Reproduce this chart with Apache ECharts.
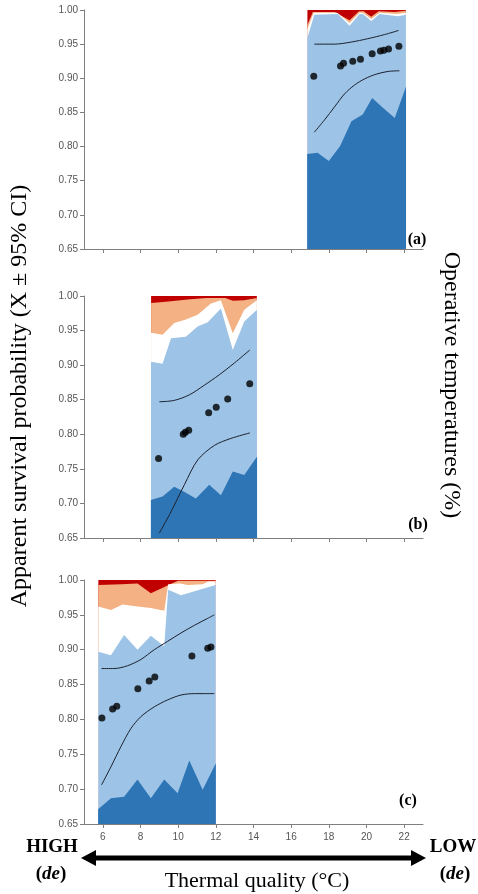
<!DOCTYPE html>
<html>
<head>
<meta charset="utf-8">
<script src="https://cdn.jsdelivr.net/npm/echarts@6/dist/echarts.min.js"></script>
<style>
html,body{margin:0;padding:0;background:#fff;}
#chart{width:478px;height:894px;}
</style>
</head>
<body>
<div id="chart"></div>
<script>
// ---------- data ----------
const xTickValues = [6, 8, 10, 12, 14, 16, 18, 20, 22];
const yTickValues = [0.65, 0.70, 0.75, 0.80, 0.85, 0.90, 0.95, 1.00];
const panelLabels = ['(a)', '(b)', '(c)'];

// Panel (a): operative-temperature layers (upper boundaries)
const aRedTop = [[16.85, 1.0], [22.1, 1.0]];
const aOrangeTop = [[16.85, 0.978], [17.15, 0.997], [18.3, 0.997], [19.1, 0.985], [19.6, 0.998], [19.85, 0.998], [20.25, 0.990], [20.65, 0.998], [21.5, 0.997], [22.1, 0.999]];
const aWhiteTop = [[16.85, 0.972], [17.2, 0.996], [18.45, 0.996], [19.1, 0.981], [19.63, 0.996], [19.8, 0.996], [20.25, 0.987], [20.7, 0.996], [21.6, 0.994], [22.1, 0.996]];
const aLightTop = [[16.85, 0.959], [17.23, 0.993], [18.48, 0.994], [19.1, 0.977], [19.63, 0.994], [19.8, 0.994], [20.25, 0.984], [20.7, 0.994], [21.67, 0.991], [22.1, 0.993]];
const aDarkTop = [[16.85, 0.789], [17.4, 0.791], [18.0, 0.779], [18.6, 0.801], [19.2, 0.837], [19.8, 0.847], [20.3, 0.871], [20.9, 0.856], [21.5, 0.842], [22.1, 0.888]];
const aUpper = [[17.23, 0.950], [18.3, 0.950], [19.18, 0.953], [20.07, 0.958], [20.96, 0.964], [21.7, 0.970]];
const aLower = [[17.23, 0.821], [17.77, 0.839], [18.3, 0.858], [18.83, 0.877], [19.36, 0.890], [19.89, 0.899], [20.51, 0.906], [21.14, 0.910], [21.75, 0.911]];
const aSurvival = [[17.2, 0.903], [18.62, 0.918], [18.78, 0.922], [19.27, 0.925], [19.68, 0.928], [20.30, 0.936], [20.74, 0.940], [20.92, 0.941], [21.17, 0.943], [21.72, 0.947]];

// Panel (b)
const bRedTop = [[8.55, 1.0], [14.19, 1.0]];
const bOrangeTop = [[8.55, 0.990], [9.5, 0.992], [10.5, 0.995], [11.5, 0.997], [12.5, 0.997], [12.9, 0.993], [13.5, 0.994], [14.19, 0.997]];
const bWhiteTop = [[8.55, 0.947], [9.17, 0.944], [9.79, 0.961], [10.41, 0.966], [11.03, 0.973], [11.74, 0.989], [12.27, 0.994], [12.9, 0.946], [13.51, 0.980], [14.19, 0.994]];
const bLightTop = [[8.55, 0.905], [9.17, 0.902], [9.62, 0.939], [10.41, 0.941], [11.03, 0.956], [11.57, 0.962], [12.27, 0.982], [12.9, 0.922], [13.51, 0.963], [14.19, 0.980]];
const bDarkTop = [[8.55, 0.705], [9.17, 0.710], [9.79, 0.724], [10.32, 0.717], [10.94, 0.707], [11.65, 0.727], [12.27, 0.712], [12.9, 0.746], [13.51, 0.741], [14.19, 0.768]];
const bUpper = [[9.0, 0.847], [9.79, 0.849], [10.59, 0.857], [11.39, 0.871], [12.18, 0.886], [12.98, 0.903], [13.81, 0.922]];
const bLower = [[9.0, 0.657], [9.62, 0.688], [10.33, 0.727], [11.04, 0.763], [11.93, 0.784], [12.8, 0.794], [13.81, 0.802]];
const bSurvival = [[8.96, 0.765], [10.27, 0.800], [10.38, 0.803], [10.56, 0.806], [11.62, 0.831], [12.02, 0.839], [12.63, 0.851], [13.8, 0.873]];

// Panel (c)
const cRedTop = [[5.75, 1.0], [12.0, 1.0]];
const cOrangeTop = [[5.75, 0.993], [7.0, 0.994], [7.84, 0.995], [8.55, 0.981], [9.75, 0.996], [10.0, 0.999], [12.0, 0.999]];
const cWhiteTop = [[5.75, 0.962], [6.43, 0.957], [7.05, 0.965], [7.84, 0.962], [8.55, 0.960], [9.26, 0.956], [9.47, 0.994], [10.1, 0.995], [10.5, 0.993], [11.3, 0.994], [11.6, 0.998], [12.0, 0.998]];
const cLightTop = [[5.75, 0.897], [6.43, 0.892], [7.13, 0.921], [7.84, 0.900], [8.55, 0.920], [9.26, 0.905], [9.47, 0.986], [10.15, 0.978], [12.0, 0.993]];
const cDarkTop = [[5.75, 0.671], [6.43, 0.687], [7.13, 0.689], [7.84, 0.714], [8.55, 0.687], [9.26, 0.714], [9.97, 0.694], [10.59, 0.741], [11.3, 0.699], [12.0, 0.737]];
const cUpper = [[5.93, 0.873], [6.6, 0.873], [7.31, 0.877], [8.02, 0.886], [8.73, 0.900], [9.44, 0.912], [10.15, 0.924], [10.86, 0.935], [11.57, 0.945], [11.92, 0.950]];
const cLower = [[5.93, 0.706], [6.43, 0.732], [6.96, 0.761], [7.49, 0.787], [8.02, 0.804], [8.73, 0.818], [9.44, 0.828], [10.15, 0.835], [10.86, 0.837], [11.92, 0.837]];
const cSurvival = [[5.95, 0.802], [6.52, 0.815], [6.74, 0.819], [7.86, 0.844], [8.46, 0.855], [8.76, 0.861], [10.73, 0.891], [11.57, 0.902], [11.74, 0.904]];

const panels = [
  {red: aRedTop, orange: aOrangeTop, white: aWhiteTop, light: aLightTop, dark: aDarkTop, upper: aUpper, lower: aLower, dots: aSurvival},
  {red: bRedTop, orange: bOrangeTop, white: bWhiteTop, light: bLightTop, dark: bDarkTop, upper: bUpper, lower: bLower, dots: bSurvival},
  {red: cRedTop, orange: cOrangeTop, white: cWhiteTop, light: cLightTop, dark: cDarkTop, upper: cUpper, lower: cLower, dots: cSurvival}
];

// ---------- styling / layout ----------
const layerOrder = ['red', 'orange', 'white', 'light', 'dark'];
const layerColors = {red: '#c00000', orange: '#f4b183', white: '#ffffff', light: '#9dc3e6', dark: '#2e75b6'};
const gridBoxes = [
  {left: 84, right: 55, top: 10, height: 239},
  {left: 84, right: 55, top: 296, height: 242},
  {left: 84, right: 55, top: 580, height: 244}
];
const labelPos = [[417, 240], [418, 525], [408, 801]];
const serif = '"Liberation Serif", "Times New Roman", serif';
const sans = '"Liberation Sans", Arial, sans-serif';

// pull the side edges of the under-drawn layers in by a hair so their
// anti-aliased edges don't peek out from under the layers drawn above them
function insetEdges(pts, d) {
  const out = pts.map(p => p.slice());
  out[0][0] += d;
  out[out.length - 1][0] -= d;
  return out;
}

const grid = [], xAxis = [], yAxis = [], series = [];
panels.forEach((p, i) => {
  grid.push(gridBoxes[i]);
  xAxis.push({
    type: 'value', gridIndex: i, min: 5, max: 23,
    axisLine: {show: true, lineStyle: {color: '#7f7f7f', width: 1}},
    axisTick: {show: true, length: 4, customValues: xTickValues, lineStyle: {color: '#7f7f7f'}},
    axisLabel: {show: i === 2, customValues: xTickValues, margin: 8, fontSize: 10, color: '#555', fontFamily: sans},
    splitLine: {show: false}
  });
  yAxis.push({
    type: 'value', gridIndex: i, min: 0.65, max: 1.0, interval: 0.05,
    axisLine: {show: true, lineStyle: {color: '#7f7f7f', width: 1}},
    axisTick: {show: true, length: 4, lineStyle: {color: '#7f7f7f'}},
    axisLabel: {fontSize: 10, color: '#555', fontFamily: sans, margin: 6, formatter: v => v.toFixed(2)},
    splitLine: {show: false}
  });
  layerOrder.forEach((k, j) => {
    const inset = j < 3 ? 0.012 : (j === 3 ? 0.008 : 0);
    series.push({
      type: 'line', xAxisIndex: i, yAxisIndex: i, data: insetEdges(p[k], inset),
      symbol: 'none', lineStyle: {width: 0}, silent: true,
      areaStyle: {color: layerColors[k], opacity: 1, origin: 'start'},
      z: 1 + j * 0.01
    });
  });
  ['upper', 'lower'].forEach(k => {
    series.push({
      type: 'line', xAxisIndex: i, yAxisIndex: i, data: p[k], smooth: 0.3,
      symbol: 'none', lineStyle: {color: '#1c2230', width: 1}, z: 3
    });
  });
  series.push({
    type: 'scatter', xAxisIndex: i, yAxisIndex: i, data: p.dots,
    symbolSize: 7, itemStyle: {color: '#000'}, z: 4
  });
});

const graphic = [];
panelLabels.forEach((t, i) => {
  graphic.push({type: 'text', x: labelPos[i][0], y: labelPos[i][1],
    style: {text: t, fontSize: 16, fontWeight: 'bold', fontFamily: serif, fill: '#000', align: 'center', verticalAlign: 'middle'}});
});
graphic.push({type: 'text', x: 20, y: 396, rotation: Math.PI / 2,
  style: {text: 'Apparent survival probability (X \u00b1 95% CI)', fontSize: 24, fontFamily: serif, fill: '#000', align: 'center', verticalAlign: 'middle'}});
graphic.push({type: 'text', x: 451, y: 385, rotation: -Math.PI / 2,
  style: {text: 'Operative temperatures (%)', fontSize: 24, fontFamily: serif, fill: '#000', align: 'center', verticalAlign: 'middle'}});
graphic.push({type: 'text', x: 52, y: 847,
  style: {text: 'HIGH', fontSize: 19, fontWeight: 'bold', fontFamily: serif, fill: '#000', align: 'center', verticalAlign: 'middle'}});
graphic.push({type: 'text', x: 453, y: 847,
  style: {text: 'LOW', fontSize: 19, fontWeight: 'bold', fontFamily: serif, fill: '#000', align: 'center', verticalAlign: 'middle'}});
const deRich = {b: {fontSize: 19, fontWeight: 'bold', fontFamily: serif, fill: '#000'}, i: {fontSize: 19, fontWeight: 'bold', fontStyle: 'italic', fontFamily: serif, fill: '#000'}};
graphic.push({type: 'text', x: 51, y: 874,
  style: {text: '{b|(}{i|de}{b|)}', rich: deRich, align: 'center', verticalAlign: 'middle'}});
graphic.push({type: 'text', x: 455, y: 874,
  style: {text: '{b|(}{i|de}{b|)}', rich: deRich, align: 'center', verticalAlign: 'middle'}});
graphic.push({type: 'line', shape: {x1: 92, y1: 858, x2: 415, y2: 858}, style: {stroke: '#000', lineWidth: 5}});
graphic.push({type: 'polygon', shape: {points: [[81, 858], [96, 850], [96, 866]]}, style: {fill: '#000'}});
graphic.push({type: 'polygon', shape: {points: [[426, 858], [411, 850], [411, 866]]}, style: {fill: '#000'}});
graphic.push({type: 'text', x: 257, y: 881,
  style: {text: 'Thermal quality (\u00b0C)', fontSize: 22, fontFamily: serif, fill: '#000', align: 'center', verticalAlign: 'middle'}});

const chart = echarts.init(document.getElementById('chart'), null, {renderer: 'canvas'});
chart.setOption({
  animation: false,
  backgroundColor: '#fff',
  grid, xAxis, yAxis, series, graphic
});
</script>
</body>
</html>
